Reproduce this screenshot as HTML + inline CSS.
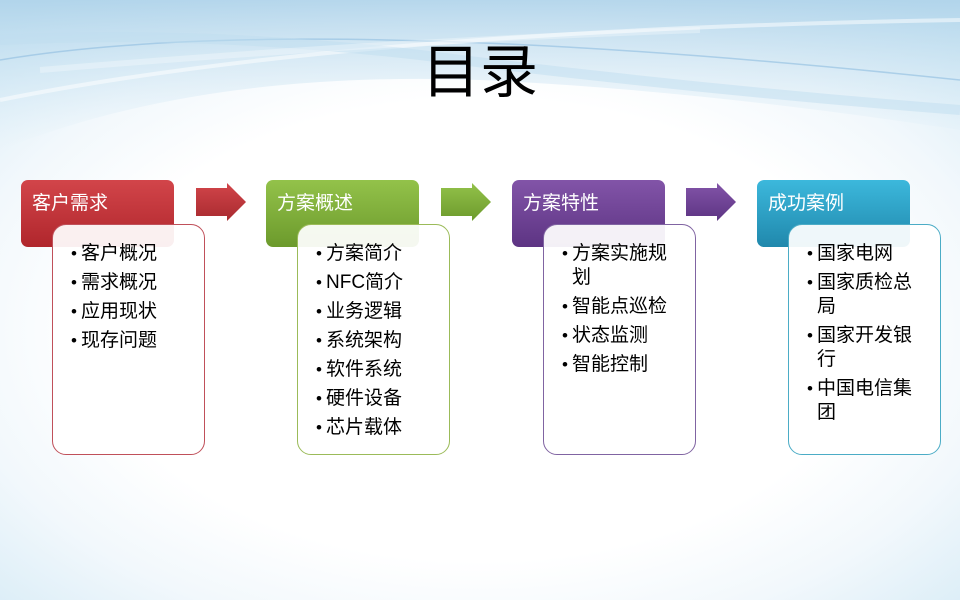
<!DOCTYPE html>
<html><head><meta charset="utf-8"><style>
*{margin:0;padding:0;box-sizing:border-box}
body{width:960px;height:600px;overflow:hidden;position:relative;font-family:"Liberation Sans","Noto Sans CJK SC",sans-serif;
background:radial-gradient(ellipse 700px 420px at 480px 330px,#ffffff 55%,#f2f8fc 75%,#d6ebf6 100%);}
.bg{position:absolute;left:0;top:0}
h1{position:absolute;left:0;width:960px;top:38px;text-align:center;font-size:58px;font-weight:normal;color:#000;line-height:70px}
.hd{position:absolute;width:153px;height:67px;border-radius:7px;color:#fff;font-size:19px;padding:12px 0 0 11px;line-height:24px}
.bx{position:absolute;width:153px;height:231px;border-radius:14px;background:rgba(255,255,255,0.93);border:1.3px solid}
ul{list-style:none;position:absolute;left:18px;top:17px;font-size:19px;line-height:24px;color:#000;width:116px}
li{position:relative;padding-left:10px;margin-bottom:5px}
li:before{content:"•";position:absolute;left:0;top:0;font-size:17px}
.ar{position:absolute;top:183px;width:50px;height:38px}
</style></head><body>
<svg class="bg" width="960" height="600">
<defs><linearGradient id="t" x1="0" y1="0" x2="0" y2="1"><stop offset="0" stop-color="#a8cfe8"/><stop offset="1" stop-color="#d6ebf6" stop-opacity="0"/></linearGradient></defs>
<path d="M0 0H960V130Q700 90 480 80Q200 70 0 150Z" fill="url(#t)" opacity="0.8"/>
<path d="M0 60Q300 10 960 80" stroke="#8ebde0" stroke-width="1.5" fill="none" opacity="0.6"/>
<path d="M0 100Q350 30 960 20" stroke="#ffffff" stroke-width="4" fill="none" opacity="0.5"/>
<path d="M0 40Q200 30 420 55Q700 90 960 110" stroke="#c0def0" stroke-width="10" fill="none" opacity="0.5"/>
<path d="M40 70Q400 40 700 30" stroke="#ffffff" stroke-width="6" fill="none" opacity="0.3"/>
</svg>
<h1>目录</h1>

<div class="hd" style="left:21px;top:180px;background:linear-gradient(#d2454a,#b0262c)">客户需求</div>
<div class="bx" style="left:52px;top:224px;border-color:#c0505a"><ul><li>客户概况</li><li>需求概况</li><li>应用现状</li><li>现存问题</li></ul></div>
<svg class="ar" style="left:196px" viewBox="0 0 50 38"><defs><linearGradient id="a1" x1="0" y1="0" x2="0" y2="1"><stop offset="0" stop-color="#d2454a"/><stop offset="1" stop-color="#a82a2f"/></linearGradient></defs><path d="M0 5H31V0L50 19L31 38V33H0Z" fill="url(#a1)"/></svg>

<div class="hd" style="left:266px;top:180px;background:linear-gradient(#93c24a,#6c9a2c)">方案概述</div>
<div class="bx" style="left:297px;top:224px;border-color:#9bbb59"><ul><li>方案简介</li><li>NFC简介</li><li>业务逻辑</li><li>系统架构</li><li>软件系统</li><li>硬件设备</li><li>芯片载体</li></ul></div>
<svg class="ar" style="left:441px" viewBox="0 0 50 38"><defs><linearGradient id="a2" x1="0" y1="0" x2="0" y2="1"><stop offset="0" stop-color="#93c24a"/><stop offset="1" stop-color="#6c9a2c"/></linearGradient></defs><path d="M0 5H31V0L50 19L31 38V33H0Z" fill="url(#a2)"/></svg>

<div class="hd" style="left:512px;top:180px;background:linear-gradient(#8254a8,#5d3483)">方案特性</div>
<div class="bx" style="left:543px;top:224px;border-color:#8064a2"><ul><li>方案实施规划</li><li>智能点巡检</li><li>状态监测</li><li>智能控制</li></ul></div>
<svg class="ar" style="left:686px" viewBox="0 0 50 38"><defs><linearGradient id="a3" x1="0" y1="0" x2="0" y2="1"><stop offset="0" stop-color="#8254a8"/><stop offset="1" stop-color="#5d3483"/></linearGradient></defs><path d="M0 5H31V0L50 19L31 38V33H0Z" fill="url(#a3)"/></svg>

<div class="hd" style="left:757px;top:180px;background:linear-gradient(#3cb8dc,#2088ac)">成功案例</div>
<div class="bx" style="left:788px;top:224px;border-color:#4bacc6"><ul><li>国家电网</li><li>国家质检总局</li><li>国家开发银行</li><li>中国电信集团</li></ul></div>
</body></html>
